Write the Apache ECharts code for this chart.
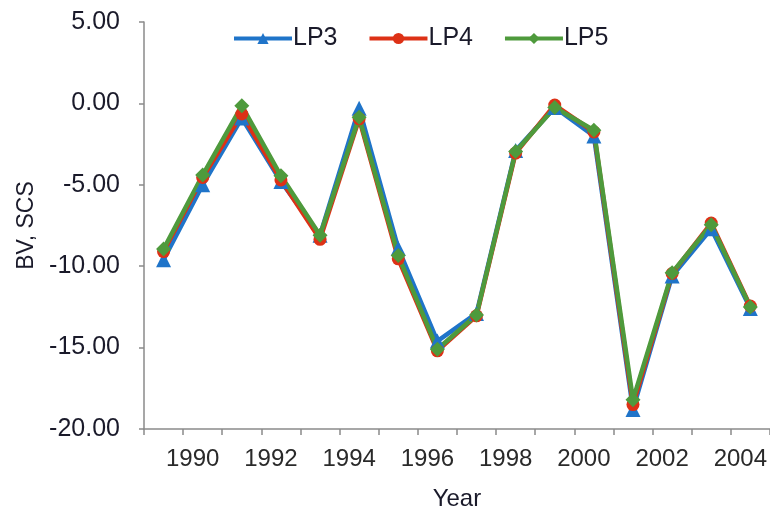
<!DOCTYPE html>
<html>
<head>
<meta charset="utf-8">
<script src="https://cdn.jsdelivr.net/npm/echarts@6/dist/echarts.min.js"></script>
<style>html,body{margin:0;padding:0;background:#fff}#c{width:770px;height:516px}</style>
</head>
<body>
<div id="c"></div>
<script>
const years = ['1989','1990','1991','1992','1993','1994','1995','1996','1997','1998','1999','2000','2001','2002','2003','2004'];
const LP3 = [-9.6, -5.0, -0.9, -4.8, -8.1, -0.3, -8.9, -14.6, -12.9, -2.9, -0.25, -2.0, -18.8, -10.6, -7.7, -12.6];
const LP4 = [-9.1, -4.55, -0.65, -4.7, -8.35, -0.95, -9.55, -15.2, -13.05, -3.05, -0.1, -1.75, -18.5, -10.45, -7.35, -12.45];
const LP5 = [-8.95, -4.4, -0.15, -4.45, -8.1, -0.85, -9.35, -15.1, -13.0, -2.95, -0.25, -1.65, -18.2, -10.4, -7.45, -12.5];
const yTicks = {min: -20, max: 5, step: 5};

const font = 'Liberation Sans, Arial, sans-serif';
const chart = echarts.init(document.getElementById('c'), null, {renderer: 'canvas'});
const mk = (name, data, color, symbol, size) => ({
  name, type: 'line', data, symbol, symbolSize: size,
  lineStyle: {color, width: 4.5}, itemStyle: {color},
  showAllSymbol: true
});
chart.setOption({
  animation: false,
  backgroundColor: '#fff',
  textStyle: {fontFamily: font},
  legend: {
    top: 21, left: 227, itemWidth: 58, itemHeight: 14, itemGap: 30,
    lineStyle: {width: 4},
    textStyle: {fontSize: 25, color: '#1a1a2a', fontFamily: font, padding: [0, 0, 0, -4]},
    data: ['LP3', 'LP4', 'LP5']
  },
  grid: {left: 144, top: 22, width: 627, height: 410},
  xAxis: {
    type: 'category', data: years, boundaryGap: true,
    name: 'Year', nameLocation: 'middle', nameGap: 58,
    nameTextStyle: {fontSize: 24, color: '#1a1a2a', fontFamily: font},
    axisLine: {onZero: false, lineStyle: {color: '#8a8a8a', width: 1.5}},
    axisTick: {show: true, interval: 0, length: 6, lineStyle: {color: '#8a8a8a', width: 1.5}},
    axisLabel: {
      interval: (i) => i % 2 === 1, margin: 18, fontSize: 24, color: '#2a2a2a',
      fontFamily: font, padding: [0, 20, 0, 0]
    },
    splitLine: {show: false}
  },
  yAxis: {
    type: 'value', min: yTicks.min, max: yTicks.max, interval: yTicks.step,
    name: 'BV, SCS', nameLocation: 'middle', nameGap: 106, nameRotate: 90,
    nameTextStyle: {fontSize: 23, color: '#1a1a2a', fontFamily: font},
    axisLine: {show: true, lineStyle: {color: '#8a8a8a', width: 1.5}},
    axisTick: {show: true, length: 5, lineStyle: {color: '#8a8a8a', width: 1.5}},
    axisLabel: {margin: 24, fontSize: 25, color: '#1a1a2a', fontFamily: font, formatter: v => v.toFixed(2)},
    splitLine: {show: false}
  },
  series: [
    mk('LP3', LP3, '#1f74c9', 'triangle', 15),
    mk('LP4', LP4, '#dd3116', 'circle', 13),
    mk('LP5', LP5, '#4e9a3c', 'diamond', 15)
  ]
});
</script>
</body>
</html>
